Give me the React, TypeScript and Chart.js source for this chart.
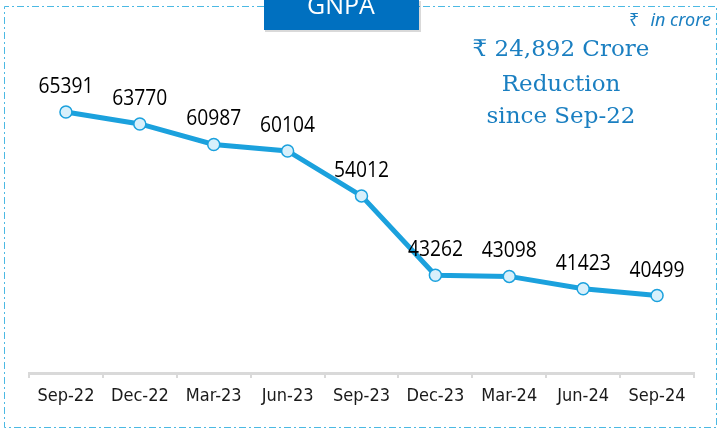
import React, { useEffect, useRef } from "react";
import { Chart, registerables } from "chart.js";

Chart.register(...registerables);

const categories = ["Sep-22", "Dec-22", "Mar-23", "Jun-23", "Sep-23", "Dec-23", "Mar-24", "Jun-24", "Sep-24"];
const gnpaValues = [65391, 63770, 60987, 60104, 54012, 43262, 43098, 41423, 40499];
const titleText = "GNPA";
const unitText = "in crore";
const calloutLines = ["₹ 24,892 Crore", "Reduction", "since Sep-22"];

const LINE_BLUE = "#1ba1dd";

const decorPlugin = {
  id: "decor",
  afterDatasetsDraw(chart: any) {
    const ctx = chart.ctx;
    const meta = chart.getDatasetMeta(0);
    ctx.save();
    ctx.fillStyle = "#000";
    ctx.font = "21px 'Open Sans'";
    ctx.textAlign = "center";
    ctx.textBaseline = "alphabetic";
    meta.data.forEach((pt: any, i: number) => {
      ctx.fillText(String(gnpaValues[i]), pt.x, pt.y - 19, 55);
    });
    ctx.restore();
  },
  afterDraw(chart: any) {
    const ctx = chart.ctx;
    ctx.save();
    ctx.strokeStyle = "#4cb9e3";
    ctx.lineWidth = 1;
    ctx.setLineDash([7, 3, 2, 3]);
    const L = 4.5, R = 716.5, T = 6.5, B = 427.5;
    ctx.beginPath();
    ctx.moveTo(264, T);
    ctx.lineTo(L, T);
    ctx.lineTo(L, B);
    ctx.lineTo(R, B);
    ctx.lineTo(R, T);
    ctx.lineTo(419, T);
    ctx.stroke();
    ctx.setLineDash([]);
    ctx.fillStyle = "rgba(0,0,0,0.15)";
    ctx.fillRect(265, 1, 156, 31);
    ctx.fillStyle = "#0070c0";
    ctx.fillRect(264, 0, 155, 30);
    ctx.fillStyle = "#ffffff";
    ctx.font = "25px 'Open Sans'";
    ctx.textAlign = "center";
    ctx.textBaseline = "alphabetic";
    ctx.fillText(titleText, 341, 14, 70);
    ctx.fillStyle = "#1a7fc1";
    ctx.font = "italic 18px 'Noto Sans'";
    ctx.textAlign = "right";
    ctx.fillText(unitText, 711, 26);
    const w = ctx.measureText(unitText).width;
    ctx.font = "18px 'Noto Sans'";
    ctx.fillText("₹", 711 - w - 11, 26);
    ctx.fillStyle = "#1a7fc1";
    ctx.font = "23px 'DejaVu Serif'";
    ctx.textAlign = "center";
    const ys = [56, 91, 123];
    calloutLines.forEach((t, i) => ctx.fillText(t, 561, ys[i]));
    ctx.restore();
  },
};

export default function App() {
  const ref = useRef<HTMLCanvasElement | null>(null);
  useEffect(() => {
    document.body.style.margin = "0";
    if (!ref.current) return;
    const chart = new Chart(ref.current, {
      type: "line",
      data: {
        labels: categories,
        datasets: [
          {
            data: gnpaValues,
            borderColor: LINE_BLUE,
            borderWidth: 5,
            pointRadius: 6,
            pointBackgroundColor: "#d8f0fb",
            pointBorderColor: LINE_BLUE,
            pointBorderWidth: 1.5,
            tension: 0,
          },
        ],
      },
      options: {
        responsive: false,
        animation: false,
        layout: { padding: { left: 29, right: 25, top: 78, bottom: 0 } },
        plugins: { legend: { display: false }, tooltip: { enabled: false } },
        scales: {
          y: { display: false, min: 30000, max: 70000 },
          x: {
            offset: true,
            afterFit(scale: any) {
              scale.height = 57;
            },
            grid: {
              offset: true,
              drawOnChartArea: false,
              drawTicks: true,
              tickLength: 5,
              color: "#d9d9d9",
              lineWidth: 2,
            },
            border: { color: "#d9d9d9", width: 3 },
            ticks: {
              color: "#1a1a1a",
              font: { family: "'DejaVu Sans Condensed'", size: 18 },
              padding: 8,
            },
          },
        },
      },
      plugins: [decorPlugin],
    });
    return () => chart.destroy();
  }, []);
  return (
    <div style={{ position: "fixed", left: 0, top: 0, width: 719, height: 430, background: "#fff" }}>
      <canvas ref={ref} width={719} height={430} />
    </div>
  );
}
